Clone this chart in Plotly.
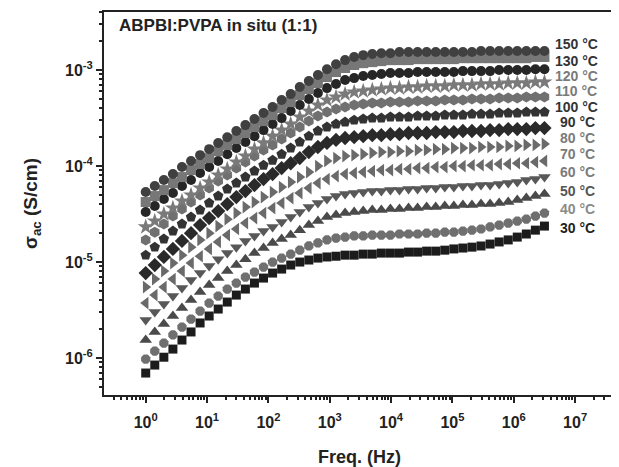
import plotly.graph_objects as go

freq = [1, 1.405, 1.975, 2.775, 3.899, 5.478, 7.698, 10.82, 15.2, 21.36,
        30.01, 42.17, 59.26, 83.27, 117.0, 164.4, 231.0, 324.7, 456.2, 641.1,
        900.8, 1266, 1778, 2499, 3512, 4935, 6935, 9741, 13690, 19240,
        27030, 37980, 53380, 74990, 105400, 148100, 208100, 292400, 410900, 577300,
        811300, 1140000, 1602000, 2251000, 3162000]

sig_150 = [5.36e-5, 6.19e-5, 7.15e-5, 8.25e-5, 9.76e-5, 1.13e-4, 1.30e-4, 1.50e-4, 1.74e-4, 2.00e-4,
           2.32e-4, 2.67e-4, 3.09e-4, 3.57e-4, 4.12e-4, 4.87e-4, 5.62e-4, 6.65e-4, 7.68e-4, 8.87e-4,
           1.02e-3, 1.15e-3, 1.27e-3, 1.37e-3, 1.43e-3, 1.47e-3, 1.50e-3, 1.50e-3, 1.54e-3, 1.54e-3,
           1.54e-3, 1.54e-3, 1.54e-3, 1.54e-3, 1.54e-3, 1.54e-3, 1.54e-3, 1.58e-3, 1.58e-3, 1.58e-3,
           1.58e-3, 1.58e-3, 1.58e-3, 1.58e-3, 1.58e-3]
sig_130 = [4.22e-5, 4.87e-5, 5.62e-5, 6.65e-5, 7.68e-5, 9.09e-5, 1.05e-4, 1.21e-4, 1.43e-4, 1.66e-4,
           1.91e-4, 2.21e-4, 2.55e-4, 2.94e-4, 3.40e-4, 4.02e-4, 4.64e-4, 5.49e-4, 6.34e-4, 7.32e-4,
           8.45e-4, 9.53e-4, 1.05e-3, 1.13e-3, 1.18e-3, 1.21e-3, 1.24e-3, 1.27e-3, 1.27e-3, 1.27e-3,
           1.30e-3, 1.30e-3, 1.30e-3, 1.30e-3, 1.30e-3, 1.33e-3, 1.33e-3, 1.33e-3, 1.33e-3, 1.33e-3,
           1.33e-3, 1.33e-3, 1.33e-3, 1.37e-3, 1.37e-3]
sig_120 = [3.32e-5, 3.83e-5, 4.53e-5, 5.23e-5, 6.19e-5, 7.15e-5, 8.45e-5, 9.76e-5, 1.13e-4, 1.33e-4,
           1.54e-4, 1.78e-4, 2.05e-4, 2.37e-4, 2.74e-4, 3.16e-4, 3.74e-4, 4.32e-4, 4.99e-4, 5.76e-4,
           6.49e-4, 7.15e-4, 7.87e-4, 8.25e-4, 8.66e-4, 8.87e-4, 9.09e-4, 9.31e-4, 9.31e-4, 9.31e-4,
           9.53e-4, 9.53e-4, 9.53e-4, 9.53e-4, 9.53e-4, 9.76e-4, 9.76e-4, 9.76e-4, 9.76e-4, 1.00e-3,
           1.00e-3, 1.00e-3, 1.00e-3, 1.02e-3, 1.02e-3]
sig_110 = [2.32e-5, 2.67e-5, 3.16e-5, 3.65e-5, 4.32e-5, 4.99e-5, 5.90e-5, 6.81e-5, 8.06e-5, 9.31e-5,
           1.10e-4, 1.27e-4, 1.50e-4, 1.74e-4, 2.05e-4, 2.37e-4, 2.74e-4, 3.24e-4, 3.74e-4, 4.32e-4,
           4.87e-4, 5.23e-4, 5.62e-4, 5.90e-4, 6.04e-4, 6.19e-4, 6.34e-4, 6.49e-4, 6.49e-4, 6.65e-4,
           6.65e-4, 6.81e-4, 6.81e-4, 6.81e-4, 6.98e-4, 6.98e-4, 6.98e-4, 7.15e-4, 7.15e-4, 7.15e-4,
           7.32e-4, 7.32e-4, 7.32e-4, 7.50e-4, 7.50e-4]
sig_100 = [1.70e-5, 2.05e-5, 2.49e-5, 3.01e-5, 3.57e-5, 4.22e-5, 4.99e-5, 5.90e-5, 6.98e-5, 8.06e-5,
           9.53e-5, 1.10e-4, 1.27e-4, 1.47e-4, 1.66e-4, 1.91e-4, 2.21e-4, 2.55e-4, 2.94e-4, 3.32e-4,
           3.65e-4, 3.92e-4, 4.12e-4, 4.32e-4, 4.42e-4, 4.53e-4, 4.53e-4, 4.64e-4, 4.64e-4, 4.64e-4,
           4.75e-4, 4.75e-4, 4.75e-4, 4.87e-4, 4.87e-4, 4.87e-4, 4.99e-4, 4.99e-4, 4.99e-4, 5.11e-4,
           5.11e-4, 5.11e-4, 5.23e-4, 5.23e-4, 5.23e-4]
sig_90 = [1.18e-5, 1.43e-5, 1.74e-5, 2.10e-5, 2.49e-5, 2.94e-5, 3.48e-5, 4.12e-5, 4.87e-5, 5.76e-5,
          6.65e-5, 7.68e-5, 8.87e-5, 1.02e-4, 1.15e-4, 1.33e-4, 1.54e-4, 1.78e-4, 2.05e-4, 2.32e-4,
          2.55e-4, 2.74e-4, 2.87e-4, 3.01e-4, 3.09e-4, 3.16e-4, 3.16e-4, 3.24e-4, 3.24e-4, 3.24e-4,
          3.32e-4, 3.32e-4, 3.32e-4, 3.40e-4, 3.40e-4, 3.40e-4, 3.48e-4, 3.48e-4, 3.48e-4, 3.57e-4,
          3.57e-4, 3.57e-4, 3.65e-4, 3.65e-4, 3.65e-4]
sig_80 = [7.68e-6, 9.31e-6, 1.13e-5, 1.37e-5, 1.66e-5, 2.00e-5, 2.43e-5, 2.87e-5, 3.40e-5, 4.02e-5,
          4.75e-5, 5.49e-5, 6.34e-5, 7.32e-5, 8.25e-5, 9.53e-5, 1.07e-4, 1.21e-4, 1.40e-4, 1.58e-4,
          1.74e-4, 1.87e-4, 1.96e-4, 2.00e-4, 2.05e-4, 2.10e-4, 2.10e-4, 2.15e-4, 2.15e-4, 2.21e-4,
          2.21e-4, 2.21e-4, 2.26e-4, 2.26e-4, 2.26e-4, 2.32e-4, 2.32e-4, 2.32e-4, 2.37e-4, 2.37e-4,
          2.43e-4, 2.43e-4, 2.43e-4, 2.49e-4, 2.49e-4]
sig_70 = [5.49e-6, 6.65e-6, 8.06e-6, 9.76e-6, 1.18e-5, 1.43e-5, 1.70e-5, 2.00e-5, 2.37e-5, 2.80e-5,
          3.24e-5, 3.74e-5, 4.22e-5, 4.75e-5, 5.36e-5, 6.04e-5, 6.81e-5, 7.68e-5, 8.66e-5, 1.00e-4,
          1.13e-4, 1.21e-4, 1.27e-4, 1.30e-4, 1.33e-4, 1.37e-4, 1.40e-4, 1.40e-4, 1.43e-4, 1.43e-4,
          1.47e-4, 1.47e-4, 1.50e-4, 1.50e-4, 1.54e-4, 1.54e-4, 1.54e-4, 1.58e-4, 1.58e-4, 1.58e-4,
          1.62e-4, 1.62e-4, 1.66e-4, 1.66e-4, 1.70e-4]
sig_60 = [3.74e-6, 4.53e-6, 5.49e-6, 6.65e-6, 8.06e-6, 9.76e-6, 1.15e-5, 1.37e-5, 1.62e-5, 1.91e-5,
          2.21e-5, 2.55e-5, 2.87e-5, 3.24e-5, 3.65e-5, 4.12e-5, 4.64e-5, 5.23e-5, 5.90e-5, 6.65e-5,
          7.32e-5, 7.87e-5, 8.25e-5, 8.45e-5, 8.66e-5, 8.87e-5, 9.09e-5, 9.09e-5, 9.31e-5, 9.31e-5,
          9.53e-5, 9.53e-5, 9.76e-5, 9.76e-5, 1.00e-4, 1.00e-4, 1.02e-4, 1.02e-4, 1.02e-4, 1.05e-4,
          1.05e-4, 1.07e-4, 1.07e-4, 1.10e-4, 1.13e-4]
sig_50 = [2.49e-6, 3.01e-6, 3.65e-6, 4.42e-6, 5.36e-6, 6.49e-6, 7.68e-6, 9.09e-6, 1.07e-5, 1.24e-5,
          1.43e-5, 1.66e-5, 1.87e-5, 2.10e-5, 2.32e-5, 2.61e-5, 2.94e-5, 3.32e-5, 3.74e-5, 4.12e-5,
          4.53e-5, 4.87e-5, 5.11e-5, 5.23e-5, 5.36e-5, 5.49e-5, 5.49e-5, 5.62e-5, 5.62e-5, 5.76e-5,
          5.76e-5, 5.90e-5, 5.90e-5, 6.04e-5, 6.04e-5, 6.19e-5, 6.19e-5, 6.34e-5, 6.34e-5, 6.49e-5,
          6.65e-5, 6.81e-5, 7.15e-5, 7.32e-5, 7.68e-5]
sig_40 = [1.54e-6, 1.87e-6, 2.26e-6, 2.74e-6, 3.32e-6, 4.02e-6, 4.87e-6, 5.76e-6, 6.81e-6, 8.06e-6,
          9.31e-6, 1.07e-5, 1.24e-5, 1.40e-5, 1.58e-5, 1.74e-5, 1.91e-5, 2.15e-5, 2.43e-5, 2.67e-5,
          2.94e-5, 3.09e-5, 3.24e-5, 3.32e-5, 3.40e-5, 3.48e-5, 3.48e-5, 3.57e-5, 3.57e-5, 3.65e-5,
          3.65e-5, 3.74e-5, 3.74e-5, 3.83e-5, 3.83e-5, 3.92e-5, 3.92e-5, 4.02e-5, 4.02e-5, 4.12e-5,
          4.22e-5, 4.42e-5, 4.64e-5, 4.87e-5, 5.11e-5]
sig_35 = [9.76e-7, 1.18e-6, 1.43e-6, 1.74e-6, 2.10e-6, 2.55e-6, 3.09e-6, 3.74e-6, 4.42e-6, 5.23e-6,
          6.04e-6, 6.98e-6, 7.87e-6, 8.87e-6, 1.00e-5, 1.10e-5, 1.21e-5, 1.33e-5, 1.47e-5, 1.58e-5,
          1.70e-5, 1.78e-5, 1.82e-5, 1.87e-5, 1.87e-5, 1.91e-5, 1.91e-5, 1.91e-5, 1.96e-5, 1.96e-5,
          1.96e-5, 2.00e-5, 2.00e-5, 2.05e-5, 2.05e-5, 2.10e-5, 2.15e-5, 2.21e-5, 2.32e-5, 2.43e-5,
          2.55e-5, 2.67e-5, 2.80e-5, 3.01e-5, 3.24e-5]
sig_30 = [6.98e-7, 8.45e-7, 1.02e-6, 1.24e-6, 1.54e-6, 1.87e-6, 2.32e-6, 2.74e-6, 3.24e-6, 3.83e-6,
          4.53e-6, 5.23e-6, 6.04e-6, 6.81e-6, 7.68e-6, 8.45e-6, 9.31e-6, 1.00e-5, 1.05e-5, 1.10e-5,
          1.13e-5, 1.15e-5, 1.18e-5, 1.18e-5, 1.21e-5, 1.21e-5, 1.24e-5, 1.24e-5, 1.24e-5, 1.27e-5,
          1.27e-5, 1.30e-5, 1.30e-5, 1.33e-5, 1.37e-5, 1.40e-5, 1.43e-5, 1.47e-5, 1.54e-5, 1.62e-5,
          1.70e-5, 1.82e-5, 1.96e-5, 2.15e-5, 2.37e-5]

x_tick_vals = [1, 10, 100, 1e3, 1e4, 1e5, 1e6, 1e7]
x_tick_text = ["10<sup>0</sup>", "10<sup>1</sup>", "10<sup>2</sup>", "10<sup>3</sup>",
               "10<sup>4</sup>", "10<sup>5</sup>", "10<sup>6</sup>", "10<sup>7</sup>"]
y_tick_vals = [1e-6, 1e-5, 1e-4, 1e-3]
y_tick_text = ["10<sup>-6</sup>", "10<sup>-5</sup>", "10<sup>-4</sup>", "10<sup>-3</sup>"]

label_texts = ["150 °C", "130 °C", "120 °C", "110 °C", "100 °C", "90 °C",
               "80 °C", "70 °C", "60 °C", "50 °C", "40 °C", "30 °C"]

series = [
    ("30 °C", sig_30, "square", "#1c1c1c", 9),
    ("35 °C", sig_35, "octagon", "#6f6f6f", 10),
    ("40 °C", sig_40, "triangle-up", "#4a4a4a", 11),
    ("50 °C", sig_50, "triangle-down", "#585858", 11),
    ("60 °C", sig_60, "triangle-left", "#6a6a6a", 11),
    ("70 °C", sig_70, "triangle-right", "#6a6a6a", 11),
    ("80 °C", sig_80, "diamond", "#2a2a2a", 11),
    ("90 °C", sig_90, "pentagon", "#333333", 11),
    ("100 °C", sig_100, "hexagon", "#707070", 11),
    ("110 °C", sig_110, "star", "#7a7a7a", 12),
    ("120 °C", sig_120, "circle", "#262626", 10),
    ("130 °C", sig_130, "square", "#777777", 10),
    ("150 °C", sig_150, "circle", "#404040", 10),
]

fig = go.Figure()
for name, ys, sym, col, sz in series:
    fig.add_trace(go.Scatter(
        x=freq, y=ys, mode="markers", name=name,
        marker=dict(symbol=sym, color=col, size=sz, line=dict(width=0)),
    ))

# page has an 8px body margin; figure is sized so it fits the 619x467 window
OFF = 8
W, H = 619 - OFF, 467 - OFF
L, R, T, B = 104 - OFF, 2, 12 - OFF, 72
pw, ph = W - L - R, H - T - B

def px(xp):
    return (xp - OFF - L) / pw

def py(yp):
    return (H - B - (yp - OFF)) / ph

label_pos = [(555, 44), (555, 61), (555, 76), (555, 91), (555, 107), (560, 122),
             (560, 138), (560, 154), (560, 172), (560, 191), (560, 209), (560, 228)]
label_cols = ["#333333", "#333333", "#7a7a7a", "#7a7a7a", "#333333", "#333333",
              "#7a7a7a", "#7a7a7a", "#7a7a7a", "#555555", "#8a8a8a", "#222222"]

for txt, (lx, ly), c in zip(label_texts, label_pos, label_cols):
    fig.add_annotation(x=px(lx), y=py(ly), xref="paper", yref="paper",
                       text="<b>" + txt + "</b>", showarrow=False,
                       xanchor="left", yanchor="middle",
                       font=dict(size=14, color=c, family="Liberation Sans"))

fig.add_annotation(x=px(117), y=py(26), xref="paper", yref="paper",
                   text="<b>ABPBI:PVPA in situ (1:1)</b>", showarrow=False,
                   xanchor="left", yanchor="middle",
                   font=dict(size=17, color="#222222", family="Liberation Sans"))

fig.update_layout(
    width=W, height=H,
    margin=dict(l=L, r=R, t=T, b=B),
    paper_bgcolor="white", plot_bgcolor="white",
    showlegend=False,
    font=dict(family="Liberation Sans", color="#222222"),
)
fig.update_xaxes(
    type="log", range=[-0.68, 7.65],
    tickmode="array", tickvals=x_tick_vals,
    ticktext=["<b>" + t + "</b>" for t in x_tick_text],
    tickfont=dict(size=16, color="#222222"),
    ticklabelstandoff=6,
    ticks="outside", ticklen=6, tickwidth=2, tickcolor="#222222",
    minor=dict(ticks="outside", ticklen=3, tickwidth=1.5, tickcolor="#222222", dtick="D1", showgrid=False),
    showline=True, linewidth=2, linecolor="#222222", mirror=True,
    showgrid=False, zeroline=False,
    title=dict(text="<b>Freq. (Hz)</b>", font=dict(size=18, color="#222222"), standoff=20),
)
fig.update_yaxes(
    type="log", range=[-6.385, -2.395],
    tickmode="array", tickvals=y_tick_vals,
    ticktext=["<b>" + t + "</b>" for t in y_tick_text],
    tickfont=dict(size=16, color="#222222"),
    ticks="outside", ticklen=6, tickwidth=2, tickcolor="#222222",
    minor=dict(ticks="outside", ticklen=3, tickwidth=1.5, tickcolor="#222222", dtick="D1", showgrid=False),
    showline=True, linewidth=2, linecolor="#222222", mirror=True,
    showgrid=False, zeroline=False,
    title=dict(text="<b>σ<sub>ac</sub> (S/cm)</b>", font=dict(size=19, color="#222222"), standoff=22),
)

fig.write_html("out.html")
